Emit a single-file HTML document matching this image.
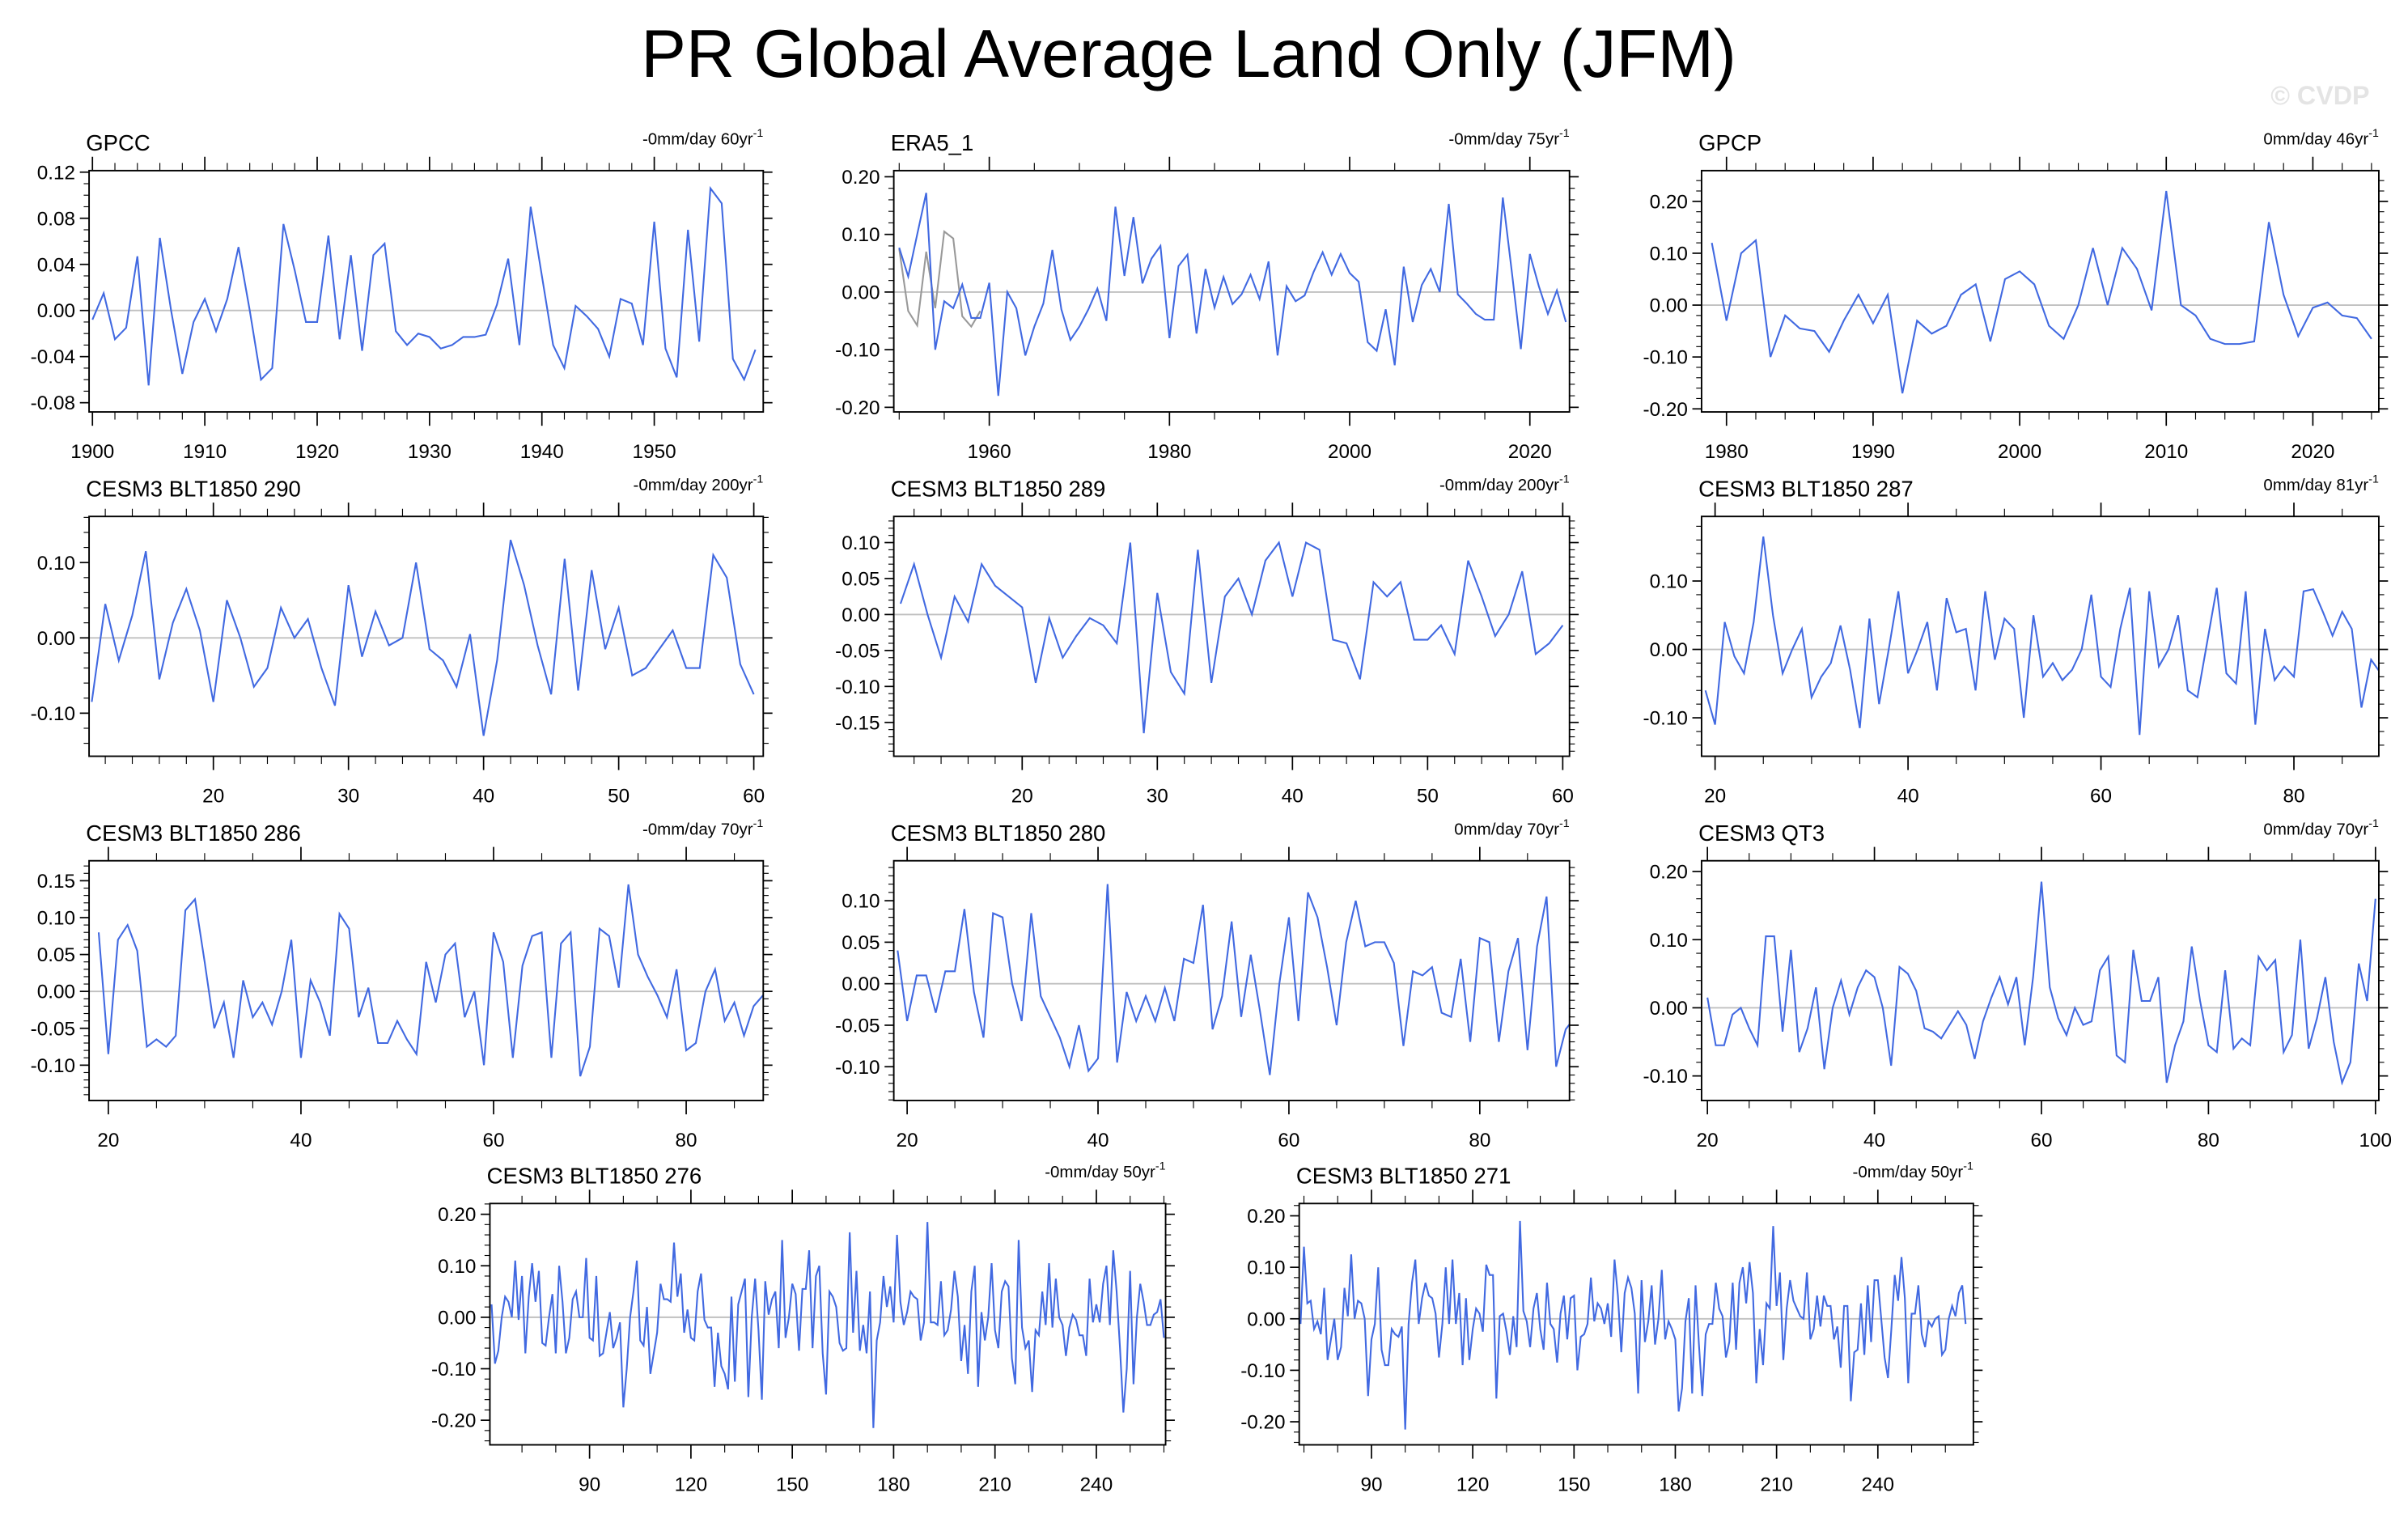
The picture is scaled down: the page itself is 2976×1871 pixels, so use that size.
<!DOCTYPE html>
<html><head><meta charset="utf-8"><style>
html,body{margin:0;padding:0;background:#fff;}
svg{display:block;font-family:"Liberation Sans",sans-serif;}
</style></head><body>
<svg id="fig" width="2976" height="1871" viewBox="0 0 1568 985" preserveAspectRatio="none" xmlns="http://www.w3.org/2000/svg">
<text x="774" y="50" font-size="44" text-anchor="middle">PR Global Average Land Only (JFM)</text>
<text x="1543" y="68" font-size="17" text-anchor="end" fill="#e4e4e4" font-weight="bold">© CVDP</text>
</svg>
<script>
const gpccValues=[-0.008,0.015,-0.025,-0.015,0.047,-0.065,0.063,0.0,-0.055,-0.01,0.01,-0.018,0.01,0.055,0.0,-0.06,-0.05,0.075,0.035,-0.01,-0.01,0.065,-0.025,0.048,-0.035,0.048,0.058,-0.018,-0.03,-0.02,-0.023,-0.033,-0.03,-0.023,-0.023,-0.021,0.005,0.045,-0.03,0.09,0.03,-0.03,-0.05,0.004,-0.005,-0.016,-0.04,0.01,0.006,-0.03,0.077,-0.033,-0.058,0.07,-0.027,0.106,0.093,-0.042,-0.06,-0.034];
const era5Values=[0.077,0.027,0.1,0.172,-0.1,-0.016,-0.028,0.013,-0.045,-0.045,0.016,-0.18,0.0,-0.028,-0.11,-0.06,-0.02,0.073,-0.03,-0.083,-0.06,-0.03,0.006,-0.05,0.148,0.028,0.13,0.015,0.058,0.08,-0.08,0.045,0.065,-0.072,0.04,-0.027,0.026,-0.021,-0.004,0.03,-0.012,0.053,-0.11,0.01,-0.016,-0.006,0.035,0.069,0.03,0.066,0.033,0.018,-0.087,-0.102,-0.03,-0.127,0.044,-0.052,0.012,0.04,0.0,0.153,-0.004,-0.02,-0.038,-0.048,-0.048,0.164,0.035,-0.099,0.066,0.01,-0.038,0.003,-0.052];
const era5GreyValues=[0.075,-0.033,-0.058,0.07,-0.028,0.105,0.093,-0.042,-0.06,-0.033];
const gpcpValues=[0.12,-0.03,0.1,0.125,-0.1,-0.02,-0.045,-0.05,-0.09,-0.03,0.02,-0.035,0.02,-0.17,-0.03,-0.055,-0.04,0.02,0.04,-0.07,0.05,0.065,0.04,-0.04,-0.065,0.0,0.11,0.0,0.11,0.07,-0.01,0.22,0.0,-0.02,-0.065,-0.075,-0.075,-0.07,0.16,0.02,-0.06,-0.005,0.005,-0.02,-0.025,-0.065];
const m290Values=[-0.085,0.045,-0.03,0.03,0.115,-0.055,0.02,0.065,0.01,-0.085,0.05,0.0,-0.065,-0.04,0.04,0.0,0.025,-0.04,-0.09,0.07,-0.025,0.035,-0.01,0.0,0.1,-0.015,-0.03,-0.065,0.005,-0.13,-0.03,0.13,0.07,-0.01,-0.075,0.105,-0.07,0.09,-0.015,0.04,-0.05,-0.04,-0.015,0.01,-0.04,-0.04,0.11,0.08,-0.035,-0.075];
const m289Values=[0.015,0.07,0.0,-0.06,0.025,-0.01,0.07,0.04,0.025,0.01,-0.095,-0.005,-0.06,-0.03,-0.005,-0.015,-0.04,0.1,-0.165,0.03,-0.08,-0.11,0.09,-0.095,0.025,0.05,0.0,0.075,0.1,0.025,0.1,0.09,-0.035,-0.04,-0.09,0.045,0.025,0.045,-0.035,-0.035,-0.015,-0.055,0.075,0.025,-0.03,0.0,0.06,-0.055,-0.04,-0.015];
const m287Values=[-0.06,-0.11,0.04,-0.01,-0.035,0.04,0.165,0.05,-0.035,0.0,0.03,-0.07,-0.04,-0.02,0.035,-0.03,-0.115,0.045,-0.08,0.0,0.085,-0.035,0.0,0.04,-0.06,0.075,0.025,0.03,-0.06,0.085,-0.015,0.045,0.03,-0.1,0.05,-0.04,-0.02,-0.045,-0.03,0.0,0.08,-0.04,-0.055,0.03,0.09,-0.125,0.085,-0.025,0.0,0.05,-0.06,-0.07,0.01,0.09,-0.035,-0.05,0.085,-0.11,0.03,-0.045,-0.025,-0.04,0.085,0.088,0.055,0.02,0.055,0.03,-0.085,-0.015,-0.035,0.0];
const m286Values=[0.08,-0.085,0.07,0.09,0.055,-0.075,-0.065,-0.075,-0.06,0.11,0.125,0.04,-0.05,-0.015,-0.09,0.015,-0.035,-0.015,-0.045,0.0,0.07,-0.09,0.015,-0.015,-0.06,0.105,0.085,-0.035,0.005,-0.07,-0.07,-0.04,-0.065,-0.085,0.04,-0.015,0.05,0.065,-0.035,0.0,-0.1,0.08,0.04,-0.09,0.035,0.075,0.08,-0.09,0.065,0.08,-0.115,-0.075,0.085,0.075,0.005,0.145,0.05,0.02,-0.005,-0.035,0.03,-0.08,-0.07,0.0,0.03,-0.04,-0.015,-0.06,-0.02,-0.005];
const m280Values=[0.04,-0.045,0.01,0.01,-0.035,0.015,0.015,0.09,-0.01,-0.065,0.085,0.08,0.0,-0.045,0.085,-0.015,-0.04,-0.065,-0.1,-0.05,-0.105,-0.09,0.12,-0.095,-0.01,-0.045,-0.015,-0.045,-0.005,-0.045,0.03,0.025,0.095,-0.055,-0.015,0.075,-0.04,0.035,-0.035,-0.11,0.0,0.08,-0.045,0.11,0.08,0.02,-0.05,0.05,0.1,0.045,0.05,0.05,0.025,-0.075,0.015,0.01,0.02,-0.035,-0.04,0.03,-0.07,0.055,0.05,-0.07,0.015,0.055,-0.08,0.045,0.105,-0.1,-0.055,-0.04];
const qt3Values=[0.015,-0.055,-0.055,-0.01,0.0,-0.03,-0.055,0.105,0.105,-0.035,0.085,-0.065,-0.03,0.03,-0.09,0.0,0.04,-0.01,0.03,0.055,0.045,0.0,-0.085,0.06,0.05,0.025,-0.03,-0.035,-0.045,-0.025,-0.005,-0.025,-0.075,-0.02,0.015,0.045,0.005,0.045,-0.055,0.045,0.185,0.03,-0.015,-0.04,0.0,-0.025,-0.02,0.055,0.075,-0.07,-0.08,0.085,0.01,0.01,0.045,-0.11,-0.055,-0.02,0.09,0.01,-0.055,-0.065,0.055,-0.06,-0.045,-0.055,0.075,0.055,0.07,-0.065,-0.04,0.1,-0.06,-0.015,0.045,-0.05,-0.11,-0.08,0.065,0.01,0.16];
const m276Values=[0.025,-0.09,-0.065,0.0,0.04,0.03,0.0,0.11,-0.005,0.08,-0.07,0.04,0.105,0.03,0.09,-0.05,-0.055,0.0,0.045,-0.07,0.1,0.03,-0.07,-0.04,0.035,0.05,0.0,0.0,0.115,-0.04,-0.045,0.08,-0.075,-0.07,-0.03,0.01,-0.06,-0.04,-0.01,-0.175,-0.1,0.0,0.05,0.11,-0.045,-0.055,0.02,-0.11,-0.07,-0.03,0.065,0.035,0.035,0.03,0.145,0.04,0.085,-0.03,0.015,-0.04,-0.045,0.05,0.085,-0.005,-0.02,-0.02,-0.135,-0.03,-0.095,-0.11,-0.14,0.04,-0.125,0.025,0.05,0.075,-0.155,0.0,0.075,-0.025,-0.16,0.07,0.005,0.035,0.05,-0.06,0.15,-0.04,0.0,0.065,0.045,-0.065,0.055,0.055,0.13,-0.06,0.08,0.1,-0.07,-0.15,0.05,0.04,0.02,-0.05,-0.065,-0.06,0.165,-0.03,0.09,-0.065,-0.015,-0.07,0.05,-0.215,-0.045,-0.01,0.08,0.02,0.06,-0.01,0.16,0.03,-0.015,0.01,0.05,0.04,0.035,-0.045,-0.01,0.185,-0.01,-0.01,-0.015,0.07,-0.035,-0.025,0.015,0.09,0.04,-0.085,-0.015,-0.11,0.05,0.1,-0.135,0.01,-0.045,0.0,0.105,-0.025,-0.06,0.05,0.07,0.06,-0.08,-0.13,0.15,-0.02,-0.06,-0.045,-0.145,-0.025,-0.035,0.05,-0.015,0.105,-0.02,0.075,0.0,-0.015,-0.075,-0.02,0.005,-0.005,-0.035,-0.035,-0.075,0.075,-0.01,0.025,-0.01,0.065,0.1,-0.015,0.13,0.05,-0.06,-0.185,-0.1,0.09,-0.13,0.0,0.065,0.03,-0.015,-0.015,0.005,0.01,0.035,-0.04];
const m271Values=[-0.01,0.14,0.03,0.035,-0.02,-0.005,-0.03,0.06,-0.08,-0.04,0.0,-0.08,-0.055,0.06,0.005,0.125,0.0,0.035,0.03,0.0,-0.15,-0.04,-0.01,0.1,-0.06,-0.09,-0.09,-0.02,-0.03,-0.035,-0.015,-0.215,-0.01,0.07,0.115,-0.01,0.04,0.07,0.045,0.04,0.01,-0.075,-0.01,0.1,-0.01,0.115,-0.01,0.05,-0.09,0.04,-0.08,-0.02,0.02,0.01,-0.025,0.105,0.085,0.085,-0.155,0.005,0.01,-0.025,-0.07,0.005,-0.055,0.19,0.015,-0.005,-0.055,0.02,0.05,-0.02,-0.06,0.07,-0.01,-0.02,-0.085,0.01,0.045,-0.04,0.04,0.045,-0.1,-0.035,-0.03,-0.01,0.08,-0.005,0.03,0.02,-0.01,0.03,-0.035,0.115,0.045,-0.065,0.05,0.08,0.06,0.01,-0.145,0.075,-0.045,-0.005,0.065,-0.05,0.0,0.095,-0.04,-0.005,-0.02,-0.04,-0.18,-0.135,-0.005,0.04,-0.145,0.065,-0.05,-0.15,-0.03,-0.01,-0.01,0.07,0.02,0.005,-0.075,-0.045,0.07,-0.06,0.07,0.1,0.03,0.11,0.05,-0.125,-0.02,-0.09,0.03,0.02,0.18,0.025,0.09,-0.08,0.02,0.075,0.035,0.02,0.005,0.0,0.09,-0.04,-0.02,0.045,-0.015,0.045,0.025,0.025,-0.04,-0.015,-0.095,0.025,0.025,-0.16,-0.065,-0.06,0.03,-0.07,0.065,-0.045,0.075,0.075,0.0,-0.075,-0.115,-0.02,0.085,0.035,0.12,0.04,-0.125,0.01,0.01,0.065,-0.03,-0.055,-0.005,-0.015,0.0,0.005,-0.07,-0.06,0.0,0.025,0.005,0.05,0.065,-0.01];
const panelTitles=["GPCC","ERA5_1","GPCP","CESM3 BLT1850 290","CESM3 BLT1850 289","CESM3 BLT1850 287","CESM3 BLT1850 286","CESM3 BLT1850 280","CESM3 QT3","CESM3 BLT1850 276","CESM3 BLT1850 271"];
const trendLabels=["-0mm/day 60yr","-0mm/day 75yr","0mm/day 46yr","-0mm/day 200yr","-0mm/day 200yr","0mm/day 81yr","-0mm/day 70yr","0mm/day 70yr","0mm/day 70yr","-0mm/day 50yr","-0mm/day 50yr"];
const startX=[1900,1950,1979,11,11,19,19,19,20,61,69];

const NS="http://www.w3.org/2000/svg";
const svg=document.getElementById('fig');
function mk(tag,attrs,parent){const e=document.createElementNS(NS,tag);for(const k in attrs)e.setAttribute(k,attrs[k]);(parent||svg).appendChild(e);return e;}

const P=[
 {x0:58,x1:497,y0:111,y1:268,xd:[1899.7,1959.7],yv:[0.12,-0.08],yp:[112,262],yt:[-0.08,0.12,0.04],ym:0.01,xt:[1900,1950,10],xm:2},
 {x0:582,x1:1022,y0:111,y1:268,xd:[1949.4,2024.4],yv:[0.2,-0.2],yp:[115,265],yt:[-0.2,0.2,0.1],ym:0.02,xt:[1960,2020,20],xm:5},
 {x0:1108,x1:1549,y0:111,y1:268,xd:[1978.3,2024.5],yv:[0.2,-0.2],yp:[131,266],yt:[-0.2,0.2,0.1],ym:0.02,xt:[1980,2020,10],xm:2},
 {x0:58,x1:497,y0:336,y1:492,xd:[10.8,60.7],yv:[0.1,-0.1],yp:[366,464],yt:[-0.1,0.1,0.1],ym:0.02,xt:[20,60,10],xm:2},
 {x0:582,x1:1022,y0:336,y1:492,xd:[10.5,60.5],yv:[0.1,-0.15],yp:[353,470],yt:[-0.15,0.1,0.05],ym:0.01,xt:[20,60,10],xm:2},
 {x0:1108,x1:1549,y0:336,y1:492,xd:[18.6,88.8],yv:[0.1,-0.1],yp:[378,467],yt:[-0.1,0.1,0.1],ym:0.02,xt:[20,80,20],xm:5},
 {x0:58,x1:497,y0:560,y1:716,xd:[18.0,88.0],yv:[0.15,-0.1],yp:[573,693],yt:[-0.1,0.15,0.05],ym:0.01,xt:[20,80,20],xm:5},
 {x0:582,x1:1022,y0:560,y1:716,xd:[18.6,89.4],yv:[0.1,-0.1],yp:[586,694],yt:[-0.1,0.1,0.05],ym:0.01,xt:[20,80,20],xm:5},
 {x0:1108,x1:1549,y0:560,y1:716,xd:[19.3,100.4],yv:[0.2,-0.1],yp:[567,700],yt:[-0.1,0.2,0.1],ym:0.02,xt:[20,100,20],xm:5},
 {x0:319,x1:759,y0:783,y1:940,xd:[60.5,260.5],yv:[0.2,-0.2],yp:[790,924],yt:[-0.2,0.2,0.1],ym:0.02,xt:[90,240,30],xm:10},
 {x0:846,x1:1285,y0:783,y1:940,xd:[68.6,268.3],yv:[0.2,-0.2],yp:[791,925],yt:[-0.2,0.2,0.1],ym:0.02,xt:[90,240,30],xm:10}
];
const series=[gpccValues,era5Values,gpcpValues,m290Values,m289Values,m287Values,m286Values,m280Values,qt3Values,m276Values,m271Values];

P.forEach((p,i)=>{
 const sx=v=>p.x0+(v-p.xd[0])/(p.xd[1]-p.xd[0])*(p.x1-p.x0);
 const sy=v=>p.yp[0]+(v-p.yv[0])/(p.yv[1]-p.yv[0])*(p.yp[1]-p.yp[0]);
 const g=mk('g',{});
 
 
 const t=mk('text',{x:p.x0-2,y:p.y0-13,'font-size':14.5},g);t.textContent=panelTitles[i];
 
 
 const r=mk('text',{x:p.x1,y:p.y0-17,'font-size':10.8,'text-anchor':'end'},g);
 
 
 r.appendChild(document.createTextNode(trendLabels[i]));
 const sup=mk('tspan',{'font-size':7.5,dy:-5},r);sup.textContent='-1';
 const cid='clip'+i;
 const cp=mk('clipPath',{id:cid},g);mk('rect',{x:p.x0,y:p.y0,width:p.x1-p.x0,height:p.y1-p.y0},cp);
 const z=mk('line',{x1:p.x0,x2:p.x1,y1:sy(0),y2:sy(0),stroke:'#c0c0c0','stroke-width':1},g);
 
 
 const ylo=p.yv[1]+(p.yv[1]-p.yv[0])*((p.y1-p.yp[1])/(p.yp[1]-p.yp[0]));
 const yhi=p.yv[0]-(p.yv[1]-p.yv[0])*((p.yp[0]-p.y0)/(p.yp[1]-p.yp[0]));
 for(let k=Math.ceil(ylo/p.ym-1e-6);k<=Math.floor(yhi/p.ym+1e-6);k++){
  const v=k*p.ym, y=sy(v);
  const maj=Math.abs(Math.round((v-p.yt[0])/p.yt[2])*p.yt[2]+p.yt[0]-v)<1e-6;
  const L=maj?6:3.5;
  mk('line',{x1:p.x0-L,x2:p.x0,y1:y,y2:y,stroke:'#000','stroke-width':maj?0.9:0.6},g);
  mk('line',{x1:p.x1,x2:p.x1+L,y1:y,y2:y,stroke:'#000','stroke-width':maj?0.9:0.6},g);
  if(maj){const tl=mk('text',{x:p.x0-9,y:y+4.5,'font-size':12.8,'text-anchor':'end'},g);tl.textContent=v.toFixed(2).replace('-0.00','0.00');
   
   }
 }
 for(let k=Math.ceil(p.xd[0]/p.xm);k<=Math.floor(p.xd[1]/p.xm);k++){
  const v=k*p.xm, x=sx(v);
  const maj=(v-p.xt[0])%p.xt[2]===0;
  const L=maj?9:5;
  mk('line',{x1:x,x2:x,y1:p.y1,y2:p.y1+L,stroke:'#000','stroke-width':maj?0.9:0.6},g);
  mk('line',{x1:x,x2:x,y1:p.y0-L,y2:p.y0,stroke:'#000','stroke-width':maj?0.9:0.6},g);
  if(maj&&v>=p.xt[0]&&v<=p.xt[1]){const tl=mk('text',{x:x,y:p.y1+30,'font-size':12.8,'text-anchor':'middle'},g);tl.textContent=v;
   
   }
 }
 const drawLine=(vals,col,name)=>{
  const pts=vals.map((v,j)=>sx(startX[i]+j).toFixed(2)+','+sy(v).toFixed(2)).join(' ');
  const pl=mk('polyline',{points:pts,fill:'none',stroke:col,'stroke-width':1.1,'clip-path':'url(#'+cid+')'},g);
  
  
 };
 if(i===1) drawLine(era5GreyValues,'#999999','grey-series-line');
 drawLine(series[i],'#4169e1','series-line');
 const box=mk('rect',{x:p.x0,y:p.y0,width:p.x1-p.x0,height:p.y1-p.y0,fill:'none',stroke:'#000','stroke-width':1},g);
 
 
});
</script>
</body></html>
